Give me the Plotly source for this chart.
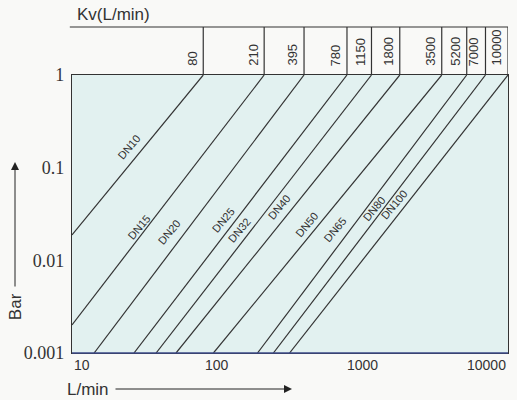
import math
import plotly.graph_objects as go

# ---- data ----
dn_labels = ["DN10", "DN15", "DN20", "DN25", "DN32", "DN40", "DN50", "DN65", "DN80", "DN100"]
kv_values = [80, 210, 395, 780, 1150, 1800, 3500, 5200, 7000, 10000]
kv_text = ["80", "210", "395", "780", "1150", "1800", "3500", "5200", "7000", "10000"]
# lower end of each line (flow L/min, pressure drop bar)
start_flow = [10, 10, 14.2, 26.7, 37.9, 52, 94, 189, 243, 314]
start_dp = [0.0188, 0.00201, 0.001, 0.001, 0.001, 0.001, 0.001, 0.001, 0.001, 0.001]
# upper end of each line: flow = Kv at 1 bar
end_dp = [1, 1, 1, 1, 1, 1, 1, 1, 1, 1]
# label positions along the lines
label_flow = [26.3, 30.9, 49.7, 117, 151, 284, 438, 683, 1270, 1740]
label_dp = [0.155, 0.0212, 0.0188, 0.0254, 0.0198, 0.0350, 0.0223, 0.0198, 0.0334, 0.0369]

x_ticks = [10, 100, 1000, 10000]
x_tick_text = ["10", "100", "1000", "10000"]
y_ticks = [0.001, 0.01, 0.1, 1]
y_tick_text = ["0.001", "0.01", "0.1", "1"]

LINE = "#333333"
L10 = math.log10
fig = go.Figure()

for i, name in enumerate(dn_labels):
    fig.add_trace(go.Scatter(
        x=[start_flow[i], kv_values[i]], y=[start_dp[i], end_dp[i]],
        mode="lines", line=dict(color=LINE, width=1.2), name=name,
        showlegend=False, hoverinfo="skip"))

annotations = []
for i, name in enumerate(dn_labels):
    annotations.append(dict(
        x=L10(label_flow[i]), y=L10(label_dp[i]), xref="x", yref="y", text=name,
        showarrow=False, textangle=-50, xshift=-4, yshift=3,
        font=dict(family="Liberation Sans, Arial", size=11, color="#333")))

# Kv header labels and dividers
shapes = []
for kv, t in zip(kv_values, kv_text):
    shapes.append(dict(type="line", xref="x", yref="paper", x0=kv, x1=kv,
                       y0=1, y1=1.1727, line=dict(color=LINE, width=1.2)))
    annotations.append(dict(
        x=L10(kv), y=1.025, xref="x", yref="paper", text=t, showarrow=False,
        textangle=-90, xanchor="right", yanchor="bottom", xshift=-2,
        font=dict(family="Liberation Sans, Arial", size=13, color="#333")))

shapes.append(dict(type="line", xref="paper", yref="paper", x0=-0.005, x1=1,
                   y0=1.1727, y1=1.1727, line=dict(color=LINE, width=1.2)))
# bluish bottom frame line
shapes.append(dict(type="line", xref="paper", yref="paper", x0=0, x1=1,
                   y0=0, y1=0, line=dict(color="#3c4a88", width=1.4)))

# x tick labels
for v, t in zip(x_ticks, x_tick_text):
    anchor = "left" if v == x_ticks[0] else ("right" if v == x_ticks[-1] else "center")
    annotations.append(dict(
        x=L10(v), y=-0.043, xref="x", yref="paper", text=t, showarrow=False,
        xanchor=anchor, yanchor="middle",
        font=dict(family="Liberation Sans, Arial", size=14, color="#333")))

annotations += [
    dict(x=0.007, y=1.219, xref="paper", yref="paper", text="Kv(L/min)",
         showarrow=False, xanchor="left", yanchor="middle",
         font=dict(family="Liberation Sans, Arial", size=17, color="#333")),
    dict(x=0.089, y=-0.1295, xref="paper", yref="paper", text="L/min",
         showarrow=False, xanchor="right", yanchor="middle",
         font=dict(family="Liberation Sans, Arial", size=17, color="#333")),
    dict(x=0.5046, y=-0.1295, xref="paper", yref="paper", text="",
         showarrow=True, ax=-178, ay=0, arrowhead=2, arrowsize=1.6,
         arrowwidth=1, arrowcolor="#222"),
    dict(x=-0.1307, y=0.165, xref="paper", yref="paper", text="Bar",
         showarrow=False, textangle=-90, xanchor="center", yanchor="middle",
         font=dict(family="Liberation Sans, Arial", size=17, color="#333")),
    dict(x=-0.1307, y=0.687, xref="paper", yref="paper", text="",
         showarrow=True, ax=0, ay=126, arrowhead=2, arrowsize=1.6,
         arrowwidth=1, arrowcolor="#222"),
]

fig.update_layout(
    width=517, height=400,
    margin=dict(l=72, r=9, t=75, b=47),
    paper_bgcolor="#f9f9f7", plot_bgcolor="#e2f1f0",
    showlegend=False,
    shapes=shapes, annotations=annotations,
)
fig.update_xaxes(type="log", range=[1, 4], showgrid=False, zeroline=False,
                 showticklabels=False, ticks="", showline=True, mirror=True,
                 linecolor=LINE, linewidth=1.2)
fig.update_yaxes(type="log", range=[-3, 0], showgrid=False, zeroline=False,
                 tickvals=y_ticks, ticktext=y_tick_text, ticks="",
                 ticklabelstandoff=3,
                 tickfont=dict(family="Liberation Serif", size=18, color="#333"),
                 showline=True, mirror=True, linecolor=LINE, linewidth=1.2)

fig.write_html("out.html", config={"displayModeBar": False},
               post_script="document.body.style.margin='0';document.body.style.overflow='hidden';")
